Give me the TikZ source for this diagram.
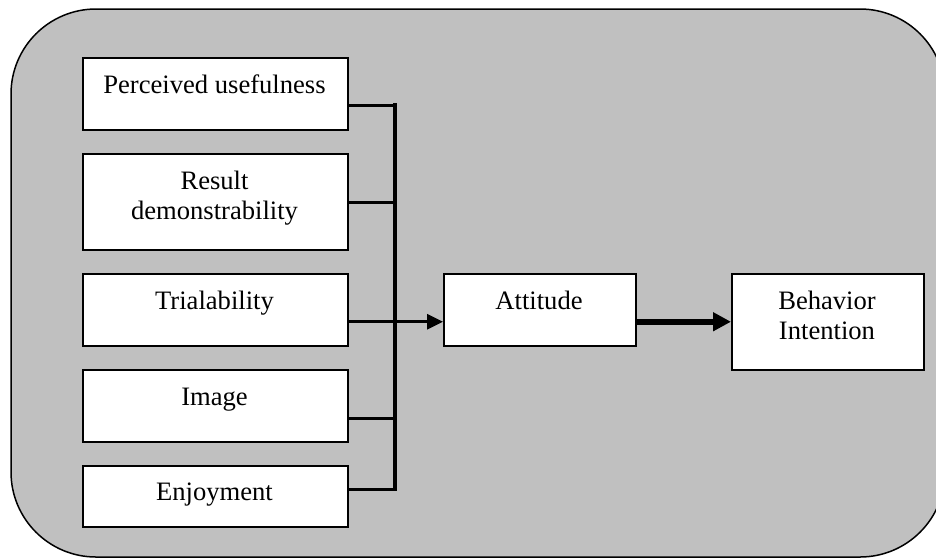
\documentclass[tikz,border=0pt]{standalone}
\usepackage{fontspec}
\setmainfont{Liberation Serif}
\usetikzlibrary{arrows.meta}
\definecolor{panelgray}{RGB}{192,192,192}
\tikzset{
  box/.style={draw=black, line width=1.5pt, fill=white, rectangle, inner sep=0pt, anchor=north west},
  txt/.style={anchor=base, inner sep=0pt, font=\fontsize{26.6}{30.5}\selectfont},
  conn/.style={draw=black, line width=3pt},
  bus/.style={draw=black, line width=3.5pt, line cap=rect},
  arr/.style={draw=black, line width=3pt, -{Triangle[length=16pt,width=15pt]}},
  thickarr/.style={draw=black, line width=6pt, -{Triangle[length=18pt,width=18pt]}}
}
\begin{document}
\begin{tikzpicture}[x=1pt,y=-1pt]
\useasboundingbox (0,0) rectangle (936,558);
\path[fill=panelgray, draw=black, line width=1.5pt, rounded corners=85pt] (11,9) rectangle (945,557);

\node[box, minimum width=265pt, minimum height=72pt] (pu) at (82,57) {};
\node[box, minimum width=265pt, minimum height=96pt] (rd) at (82,153) {};
\node[box, minimum width=265pt, minimum height=72pt] (tri) at (82,273) {};
\node[box, minimum width=265pt, minimum height=72pt] (img) at (82,369) {};
\node[box, minimum width=265pt, minimum height=61pt] (enj) at (82,465) {};
\node[box, minimum width=192pt, minimum height=72pt] (att) at (443,273) {};
\node[box, minimum width=192pt, minimum height=96pt] (bi) at (731,273) {};

\node[txt] (tpu) at (214.5,93) {Perceived usefulness};
\node[txt] (trd1) at (214.5,189) {Result};
\node[txt] (trd2) at (214.5,219) {demonstrability};
\node[txt] (ttri) at (214.5,309) {Trialability};
\node[txt] (timg) at (214.5,405) {Image};
\node[txt] (tenj) at (214.5,500) {Enjoyment};
\node[txt] (tatt) at (539,309) {Attitude};
\node[txt] (tbi1) at (827,309) {Behavior};
\node[txt] (tbi2) at (827,339) {Intention};

\coordinate (bt) at (395,105);
\coordinate (bb) at (395,489);
\draw[bus] (bt) -- (bb);
\draw[conn] ([yshift=-12pt]pu.east) -- ([yshift=-12pt]pu.east -| bt);
\draw[conn] ([yshift=-1pt]rd.east) -- ([yshift=-1pt]rd.east -| bt);
\draw[conn] ([yshift=-13pt]img.east) -- ([yshift=-13pt]img.east -| bt);
\draw[conn] ([yshift=6.5pt]enj.east) -- ([yshift=6.5pt]enj.east -| bt);
\draw[arr] ([yshift=-12pt]tri.east) -- ([yshift=-12pt]att.west);
\draw[thickarr] ([yshift=-12pt]att.east) -- (bi.west);
\end{tikzpicture}
\end{document}
